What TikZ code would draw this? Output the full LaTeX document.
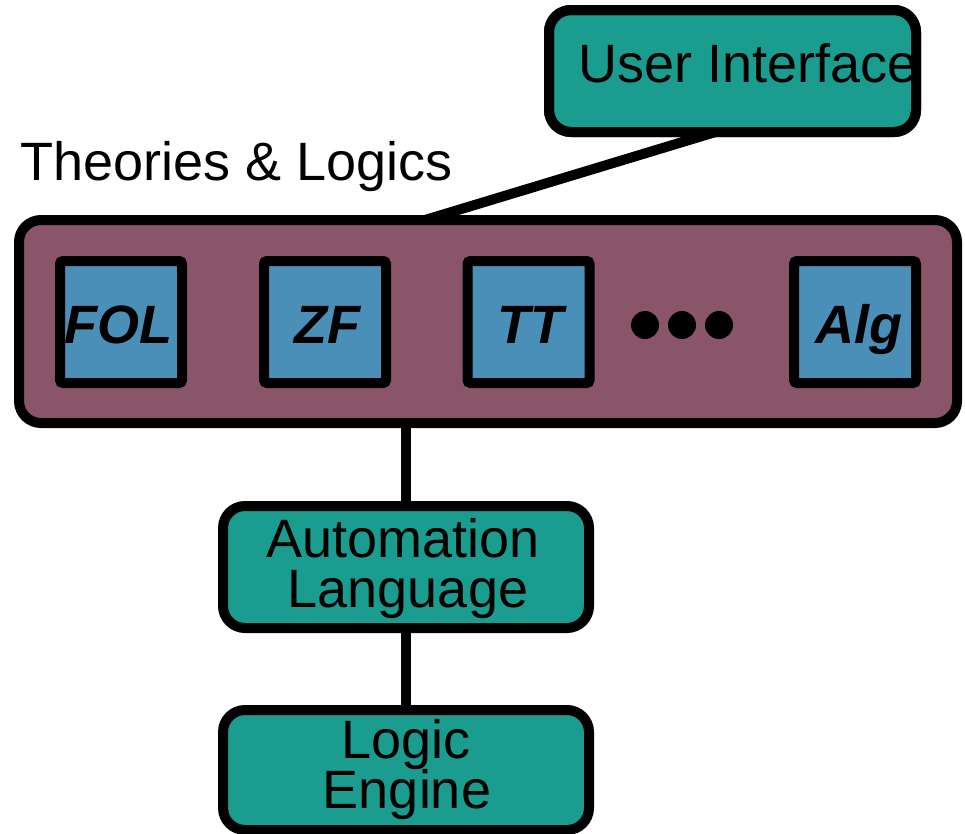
\documentclass[tikz,border=0pt]{standalone}
\usepackage{fontspec}
\setmainfont{Liberation Sans}
\usetikzlibrary{backgrounds}
\definecolor{tealbox}{RGB}{26,156,143}
\definecolor{plum}{RGB}{139,85,105}
\definecolor{steel}{RGB}{74,143,184}
\tikzset{
  x=1pt, y=-1pt,
  border/.style={draw=black, line width=10pt, inner sep=0pt, outer sep=0pt},
  tbox/.style={border, fill=tealbox, rounded corners=22pt},
  bigbox/.style={border, fill=plum, rounded corners=22pt},
  theory/.style={border, fill=steel, rounded corners=3pt, minimum width=122pt, minimum height=122pt},
  wire/.style={draw=black, line width=10pt},
  lbl/.style={inner sep=0pt, anchor=base, font=\fontsize{54}{54}\selectfont},
  tlbl/.style={inner sep=0pt, anchor=base, font=\fontsize{54}{54}\selectfont\bfseries\itshape},
  dot/.style={circle, fill=black, inner sep=0pt, minimum size=28pt}
}
\begin{document}
\begin{tikzpicture}
\useasboundingbox (0,0) rectangle (965,833);
% boxes
\node[tbox, minimum width=367pt, minimum height=122pt] (ui) at (732.5,71) {};
\node[bigbox, minimum width=938pt, minimum height=203pt] (big) at (488,321.5) {};
\node[theory] (fol) at (121,322) {};
\node[theory] (zf) at (325,322) {};
\node[theory] (tt) at (528.5,322) {};
\node[theory] (alg) at (855,322) {};
\node[tbox, minimum width=366pt, minimum height=122pt] (auto) at (406,567) {};
\node[tbox, minimum width=366pt, minimum height=120pt] (engine) at (406,770) {};
% connectors
\begin{scope}[on background layer]
\draw[wire] ([xshift=-17pt]ui.south) -- ([xshift=-63pt]big.north);
\draw[wire] (auto.north) -- (auto.north |- big.south);
\draw[wire] (auto.south) -- (engine.north);
\end{scope}
% texts
\begin{scope}
\clip (ui.north west) rectangle (ui.south east);
\node[lbl, anchor=base west] (uitext) at (578,82) {User Interface};
\end{scope}
\draw[line width=10pt, rounded corners=22pt] (ui.north west) rectangle (ui.south east);
\node[inner sep=0pt, anchor=base west, font=\fontsize{54}{54}\selectfont] (title) at (20,180) {Theories \& Logics};
\node[tlbl] (foltext) at (118,343) {FOL};
\node[tlbl] (zftext) at (327,343) {ZF};
\node[tlbl] (tttext) at (530,343) {TT};
\node[tlbl] (algtext) at (859,343) {Alg};
\node[dot] (d1) at (645,325) {};
\node[dot] (d2) at (682,325) {};
\node[dot] (d3) at (719,325) {};
\node[lbl] (auto1) at (403,557) {Automation};
\node[lbl] (auto2) at (408,607) {Language};
\node[lbl] (eng1) at (406,758) {Logic};
\node[lbl] (eng2) at (407,808) {Engine};
\end{tikzpicture}
\end{document}
